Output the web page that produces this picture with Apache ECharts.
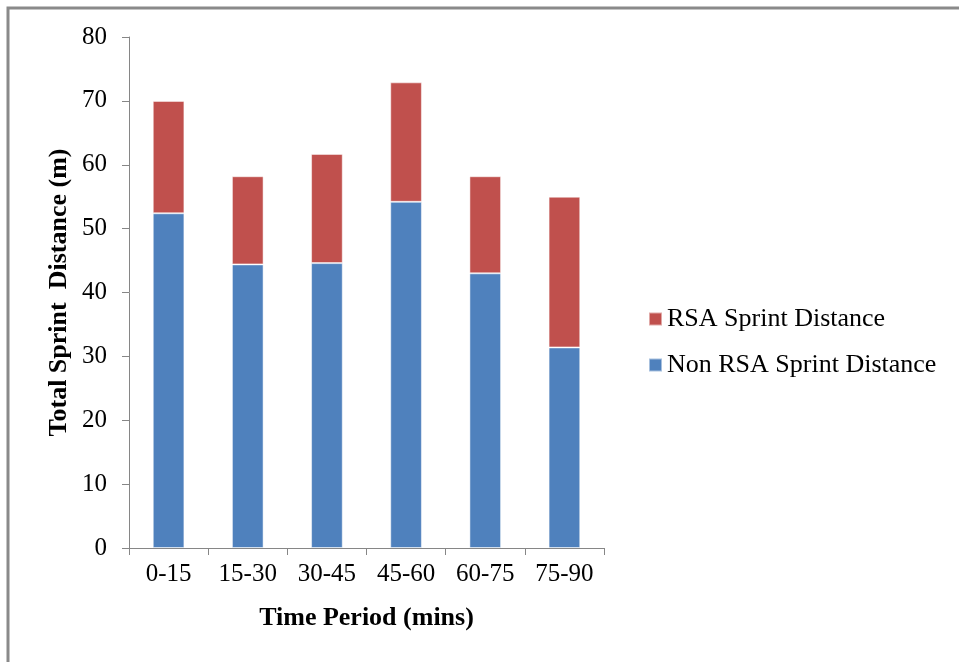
<!DOCTYPE html>
<html>
<head>
<meta charset="utf-8">
<script src="https://cdn.jsdelivr.net/npm/echarts@6/dist/echarts.min.js"></script>
<style>
html,body{margin:0;padding:0;background:#fff;}
#chart{width:959px;height:662px;}
</style>
</head>
<body>
<div id="chart"></div>
<script>
const categories = ['0-15', '15-30', '30-45', '45-60', '60-75', '75-90'];
const nonRsaValues = [52.4, 44.4, 44.6, 54.2, 43.0, 31.4];
const totalValues = [70.0, 58.2, 61.7, 72.9, 58.2, 55.0];
const rsaValues = totalValues.map((t, i) => +(t - nonRsaValues[i]).toFixed(1));
const yTicks = [0, 10, 20, 30, 40, 50, 60, 70, 80];

const FONT = '"Liberation Serif", "Times New Roman", serif';
const chart = echarts.init(document.getElementById('chart'), null, {renderer: 'canvas'});
chart.setOption({
  animation: false,
  backgroundColor: '#fff',
  graphic: [{
    type: 'rect',
    shape: {x: 8, y: 8, width: 1200, height: 1000},
    style: {fill: 'none', stroke: '#8a8a8a', lineWidth: 3},
    silent: true
  }],
  grid: {left: 129, right: 355, top: 37, bottom: 114},
  legend: {
    orient: 'vertical',
    left: 643,
    top: 301,
    itemWidth: 13,
    itemHeight: 13,
    itemGap: 20,
    icon: 'rect',
    data: ['RSA Sprint Distance', 'Non RSA Sprint Distance'],
    textStyle: {fontFamily: FONT, fontSize: 26, color: '#000'}
  },
  xAxis: {
    type: 'category',
    data: categories,
    name: 'Time Period (mins)',
    nameLocation: 'middle',
    nameGap: 57,
    nameTextStyle: {fontFamily: FONT, fontSize: 26, fontWeight: 'bold', color: '#000'},
    axisLine: {lineStyle: {color: '#868686', width: 1}},
    axisTick: {show: true, length: 7, lineStyle: {color: '#868686'}},
    axisLabel: {fontFamily: FONT, fontSize: 25, color: '#000', margin: 14}
  },
  yAxis: {
    type: 'value',
    min: yTicks[0],
    max: yTicks[yTicks.length - 1],
    interval: 10,
    name: 'Total Sprint  Distance (m)',
    nameLocation: 'middle',
    nameRotate: 90,
    nameGap: 57,
    nameTextStyle: {fontFamily: FONT, fontSize: 26, fontWeight: 'bold', color: '#000'},
    splitLine: {show: false},
    axisLine: {show: true, lineStyle: {color: '#868686', width: 1}},
    axisTick: {show: true, length: 7, lineStyle: {color: '#868686'}},
    axisLabel: {fontFamily: FONT, fontSize: 25, color: '#000', margin: 22}
  },
  series: [
    {
      name: 'Non RSA Sprint Distance',
      type: 'bar',
      stack: 'total',
      data: nonRsaValues,
      barWidth: '40%',
      itemStyle: {color: '#4F81BD', borderColor: 'rgba(255,255,255,0.5)', borderWidth: 1}
    },
    {
      name: 'RSA Sprint Distance',
      type: 'bar',
      stack: 'total',
      data: rsaValues,
      barWidth: '40%',
      itemStyle: {color: '#C0504D', borderColor: 'rgba(255,255,255,0.5)', borderWidth: 1}
    }
  ]
});
</script>
</body>
</html>
